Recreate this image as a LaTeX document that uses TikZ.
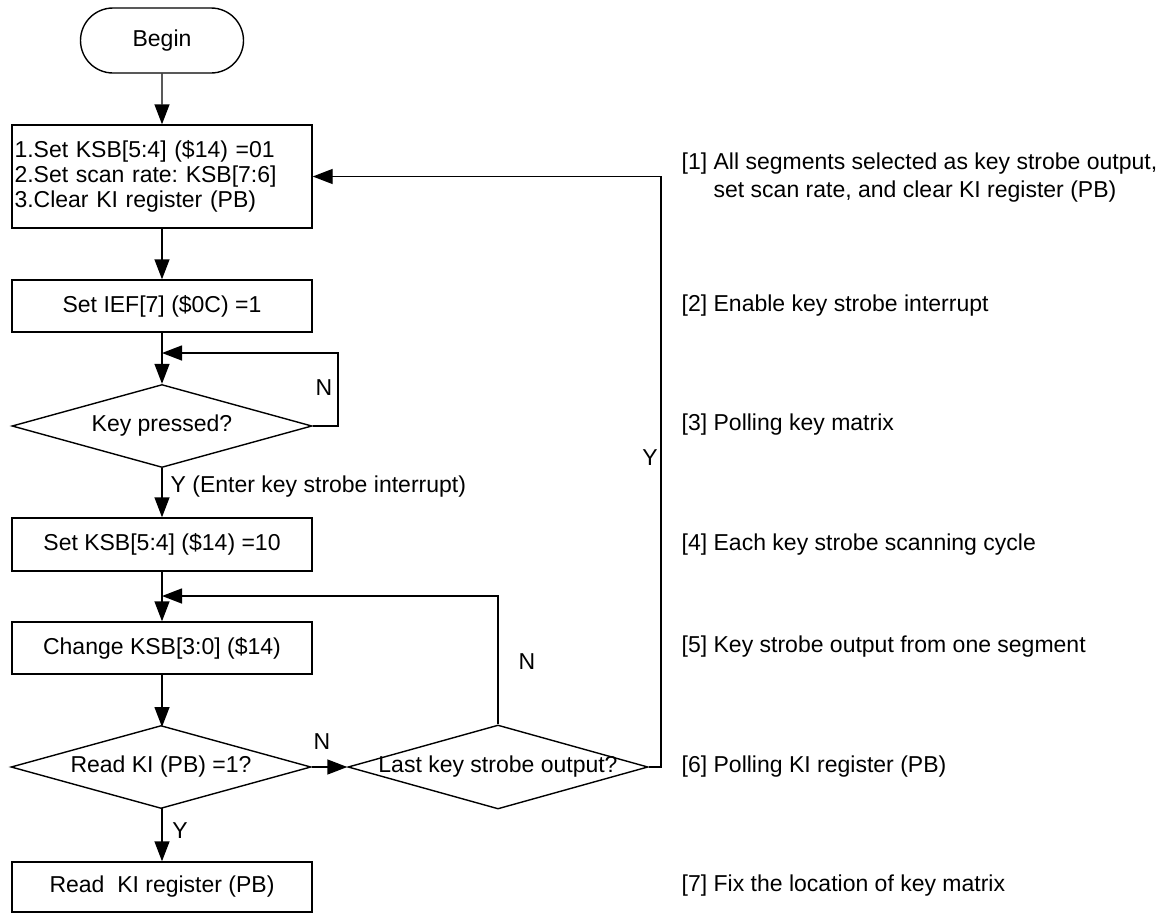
\documentclass[tikz,border=0pt]{standalone}
\usepackage{fontspec}
\setmainfont{Liberation Sans}
\usetikzlibrary{arrows.meta,shapes.geometric,shapes.misc}
\frenchspacing
\begin{document}
\begin{tikzpicture}[x=1pt,y=-1pt,line width=1.4pt,
  font=\fontsize{23}{25}\selectfont,
  >={Triangle[length=20pt,width=15pt]},
  box/.style={draw,minimum width=300pt,minimum height=52pt,inner sep=0pt},
  dia/.style={draw,diamond,minimum width=300pt,minimum height=83pt,inner sep=0pt},
  term/.style={draw,rounded rectangle,minimum width=163pt,minimum height=65pt,inner sep=0pt},
  lbl/.style={inner sep=0pt},
  note/.style={inner sep=0pt,anchor=west,align=left}]
\useasboundingbox (0,0) rectangle (1168,913);
% nodes
\node[term] (begin) at (162,40.5) {Begin};
\node[box,minimum height=103pt,text width=295pt,align=left] (b1) at (162,176.5)
  {1.Set KSB[5:4] (\$14) =01\\2.Set scan rate: KSB[7:6]\\3.Clear KI register (PB)};
\node[box] (b2) at (162,306) {Set IEF[7] (\$0C) =1};
\node[dia] (d1) at (162,426) {\makebox[0pt]{Key pressed?}};
\node[box,minimum height=53pt] (b3) at (162,544.5) {Set KSB[5:4] (\$14) =10};
\node[box] (b4) at (162,648) {Change KSB[3:0] (\$14)};
\node[dia] (d2) at (161,767) {\makebox[0pt]{Read KI (PB) =1?}};
\node[dia,minimum height=84pt] (d3) at (498,767) {\makebox[0pt]{Last key strobe output?}};
\node[box,minimum height=50pt] (b5) at (162,887) {Read\ \ KI register (PB)};
\coordinate (j1) at (162,353);
\coordinate (j2) at (162,596);
% connectors
\draw[->] (begin) -- (b1);
\draw[->] (b1) -- (b2);
\draw[->] (b2) -- (d1);
\draw[->] (d1.east) -- (338,426) -- (338,353) -- (j1);
\draw[->] (d1) -- (b3);
\draw[->] (b3) -- (b4);
\draw[->] (b4) -- (162,727);
\draw[->] (d2) -- (d3);
\draw[->] (d3.north) -- (498,596) -- (j2);
\draw[->] (d3.east) -- (661,767) |- (b1.east);
\draw[->] (162,808) -- (b5);
% labels
\node[lbl] (n1) at (324,388) {N};
\node[lbl,anchor=west] (y1) at (170,487) {Y (Enter key strobe interrupt)};
\node[lbl] (n2) at (527,662) {N};
\node[lbl] (n3) at (322,742) {N};
\node[lbl] (y2) at (650,458) {Y};
\node[lbl] (y3) at (180,831) {Y};
% notes
\node[note,font=\fontsize{23}{28}\selectfont] (t1) at (681,178) {[1] All segments selected as key strobe output,\\\phantom{[1] }set scan rate, and clear KI register (PB)};
\node[note] (t2) at (681,306) {[2] Enable key strobe interrupt};
\node[note] (t3) at (681,425) {[3] Polling key matrix};
\node[note] (t4) at (681,545) {[4] Each key strobe scanning cycle};
\node[note] (t5) at (681,647) {[5] Key strobe output from one segment};
\node[note] (t6) at (681,767) {[6] Polling KI register (PB)};
\node[note] (t7) at (681,886) {[7] Fix the location of key matrix};
\end{tikzpicture}
\end{document}
